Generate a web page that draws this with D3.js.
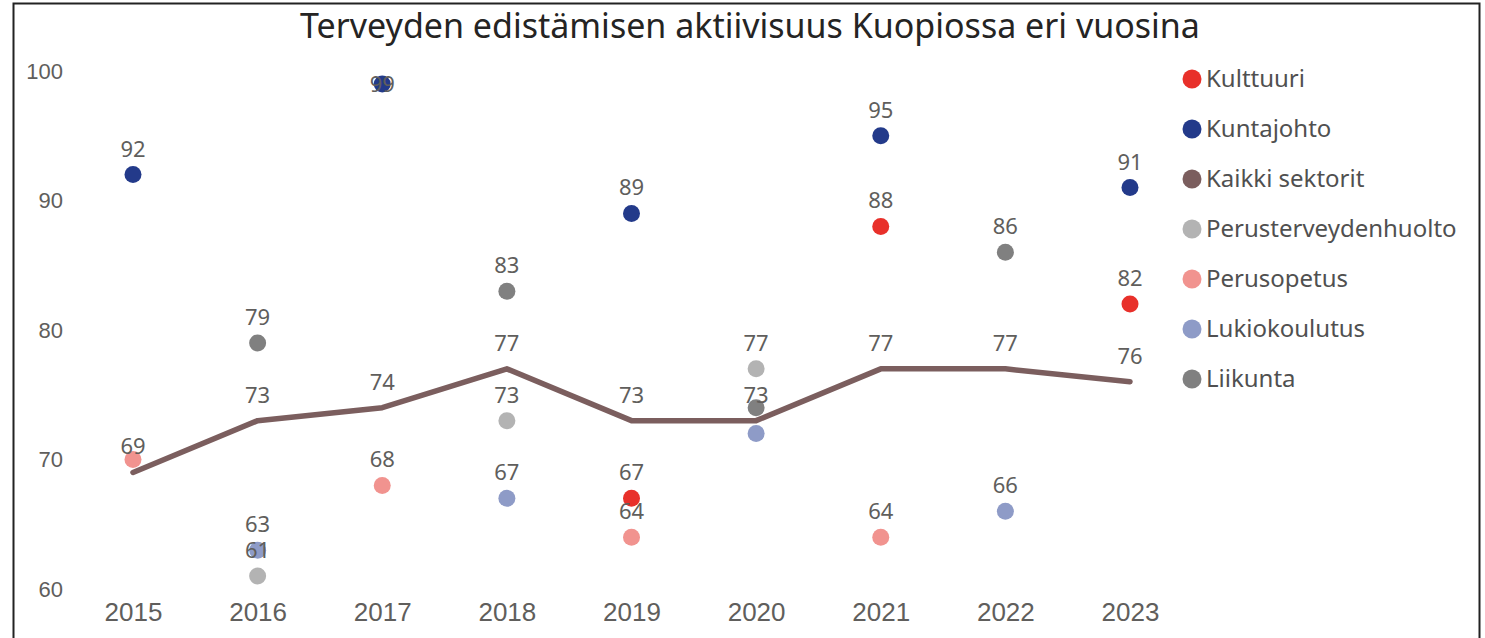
<!DOCTYPE html>
<html>
<head>
<meta charset="utf-8">
<script src="https://cdn.jsdelivr.net/npm/d3@7"></script>
<style>
  body { margin: 0; background: #fff; }
  svg { font-family: "Noto Sans", sans-serif; }
</style>
</head>
<body>
<script>
// Data
var years = [2015, 2016, 2017, 2018, 2019, 2020, 2021, 2022, 2023];
var seriesNames = ["Kulttuuri", "Kuntajohto", "Kaikki sektorit", "Perusterveydenhuolto", "Perusopetus", "Lukiokoulutus", "Liikunta"];
var seriesColors = ["#E8302A", "#233A8A", "#7B5E5E", "#B3B3B3", "#F1938F", "#8E9BC7", "#808080"];

var kulttuuri     = [null, null, null, null, 67, null, 88, null, 82];
var kuntajohto    = [92, null, 99, null, 89, null, 95, null, 91];
var kaikki        = [69, 73, 74, 77, 73, 73, 77, 77, 76];
var perusterveys  = [null, 61, null, 73, null, 77, null, null, null];
var perusopetus   = [70, null, 68, null, 64, null, 64, null, null];
var lukio         = [null, 63, null, 67, null, 72, null, 66, null];
var liikunta      = [null, 79, null, 83, null, 74, null, 86, null];

var values = [kulttuuri, kuntajohto, kaikki, perusterveys, perusopetus, lukio, liikunta];

// labels Power BI hid because of overlap: [series, year]
var hiddenLabels = [["Perusopetus", 2015], ["Liikunta", 2020], ["Lukiokoulutus", 2020]];
// labels with no room above, drawn over the marker
var insideLabels = [["Kuntajohto", 2017]];

var yTicks = [60, 70, 80, 90, 100];

var w = 1485;
var h = 638;

var svg = d3.select("body")
            .append("svg")
            .attr("width", w)
            .attr("height", h);

// frame
svg.append("rect")
   .attr("x", 13.5).attr("y", 3.5)
   .attr("width", 1466).attr("height", 700)
   .attr("fill", "none")
   .attr("stroke", "#222")
   .attr("stroke-width", 2);

svg.append("text")
   .attr("x", 750).attr("y", 38)
   .attr("text-anchor", "middle")
   .style("font-size", "34px")
   .style("fill", "#252423")
   .text("Terveyden edistämisen aktiivisuus Kuopiossa eri vuosina");

var x = d3.scalePoint().domain(years).range([133, 1130]);
var y = d3.scaleLinear().domain([60, 100]).range([589, 71]);

var yAxis = svg.append("g")
   .attr("transform", "translate(63,0)")
   .call(d3.axisLeft(y).tickValues(yTicks).tickSize(0).tickPadding(0));
yAxis.select(".domain").remove();
yAxis.selectAll("text").style("font-size", "22px").style("fill", "#605E5C").attr("font-family", null);

var xAxis = svg.append("g")
   .attr("transform", "translate(0,589)")
   .call(d3.axisBottom(x).tickSize(0).tickPadding(14));
xAxis.select(".domain").remove();
xAxis.selectAll("text").style("font-size", "26px").style("fill", "#605E5C").attr("font-family", null);

// flatten points
var points = [];
seriesNames.forEach(function(name, i){
  values[i].forEach(function(v, j){
    if (v != null) points.push({ name: name, i: i, year: years[j], value: v });
  });
});

var line = d3.line()
   .x(function(d){ return x(d.year); })
   .y(function(d){ return y(d.value); });

// draw series in order
seriesNames.forEach(function(name, i){
  var pts = points.filter(function(p){ return p.i === i; });
  if (name === "Kaikki sektorit") {
    svg.append("path")
       .datum(pts)
       .attr("d", line)
       .attr("fill", "none")
       .attr("stroke", seriesColors[i])
       .attr("stroke-width", 5.5)
       .attr("stroke-linejoin", "round")
       .attr("stroke-linecap", "round");
  } else {
    svg.selectAll(null)
       .data(pts)
       .enter()
       .append("circle")
       .attr("cx", function(d){ return x(d.year); })
       .attr("cy", function(d){ return y(d.value); })
       .attr("r", 8.5)
       .attr("fill", seriesColors[i]);
  }
});

function inList(list, d){
  return list.some(function(hl){ return hl[0] === d.name && hl[1] === d.year; });
}

svg.selectAll(".lbl")
   .data(points.filter(function(d){ return !inList(hiddenLabels, d); }))
   .enter()
   .append("text")
   .attr("class", "lbl")
   .attr("x", function(d){ return x(d.year); })
   .attr("y", function(d){ return inList(insideLabels, d) ? y(d.value) + 8 : y(d.value) - 18; })
   .attr("text-anchor", "middle")
   .style("font-size", "22px")
   .style("fill", "#605E5C")
   .text(function(d){ return d.value; });

// legend
var legend = svg.selectAll(".leg")
   .data(seriesNames)
   .enter()
   .append("g")
   .attr("class", "leg")
   .attr("transform", function(d, i){ return "translate(1192," + (79 + i * 50) + ")"; });

legend.append("circle")
   .attr("r", 9.5)
   .attr("fill", function(d, i){ return seriesColors[i]; });

legend.append("text")
   .attr("x", 14)
   .attr("dy", "0.35em")
   .style("font-size", "24px")
   .style("fill", "#505050")
   .text(function(d){ return d; });
</script>
</body>
</html>
